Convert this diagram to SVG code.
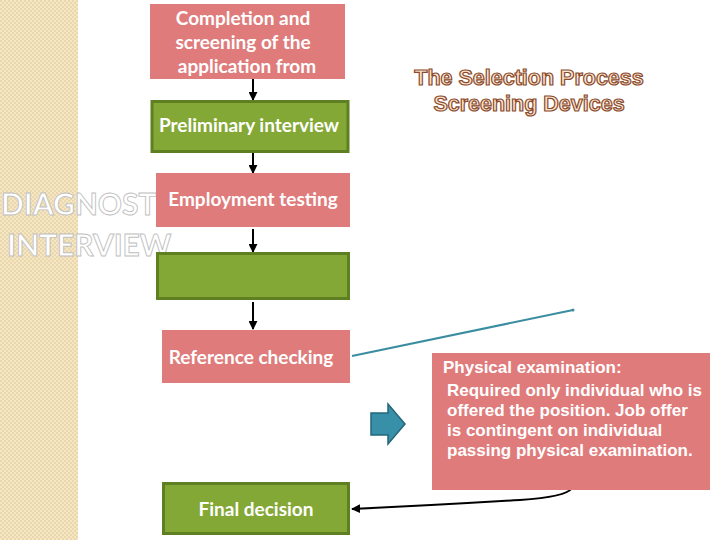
<svg xmlns="http://www.w3.org/2000/svg" width="720" height="540" viewBox="0 0 720 540">
<defs>
<pattern id="chk" width="4" height="4" patternUnits="userSpaceOnUse">
<rect width="4" height="4" fill="#F5E6C6"/>
<rect width="2" height="2" fill="#EBD7AC"/>
<rect x="2" y="2" width="2" height="2" fill="#EBD7AC"/>
</pattern>
<marker id="ah" viewBox="0 0 10 10" refX="9" refY="5" markerWidth="4.5" markerHeight="4.5" orient="auto">
<path d="M0,0 L10,5 L0,10 z" fill="#000"/>
</marker>
</defs>
<style>
.pink{fill:#E07B7B}
.green{fill:#84A835;stroke:#5E7F22;stroke-width:3}
.lbl{font-family:Lato,"Liberation Sans",sans-serif;font-size:19px;font-weight:bold;fill:#fff;text-anchor:middle}
.big{font-family:Lato,"Liberation Sans",sans-serif;font-size:30px;font-weight:bold;fill:#fff;stroke:#c0c0c0;stroke-width:0.9}
.ttl{font-family:"Liberation Sans",Arial,sans-serif;font-size:21.5px;font-weight:bold;fill:#FBE6D2;stroke:#8B4A2A;stroke-width:1.2;text-anchor:middle}
.pt{font-family:"Liberation Sans",Arial,sans-serif;font-size:17px;font-weight:bold;fill:#fff}
.conn{stroke:#000;stroke-width:2;fill:none}
</style>
<rect width="720" height="540" fill="#fff"/>
<rect x="0" y="0" width="78" height="540" fill="url(#chk)"/>

<g id="side-text">
<text class="big" x="1" y="215">DIAGNOSTI</text>
<text class="big" x="7" y="256">INTERVIEW</text>
</g>

<g id="title">
<text class="ttl" x="529" y="85">The Selection Process</text>
<text class="ttl" x="529" y="111">Screening Devices</text>
</g>

<g id="connectors">
<line class="conn" x1="253" y1="79" x2="253" y2="100" marker-end="url(#ah)"/>
<line class="conn" x1="253" y1="152" x2="253" y2="173" marker-end="url(#ah)"/>
<line class="conn" x1="253" y1="229" x2="253" y2="252" marker-end="url(#ah)"/>
<line class="conn" x1="253" y1="302" x2="253" y2="329" marker-end="url(#ah)"/>
<line x1="352" y1="356" x2="573" y2="310" stroke="#3A8DA0" stroke-width="2"/>
<circle cx="573" cy="310" r="1.5" fill="#3A8DA0"/>
<path class="conn" d="M572,488 Q566,497 520,500 Q440,505 352,509" marker-end="url(#ah)"/>
</g>

<g id="n1"><rect class="pink" x="150" y="4" width="195" height="75"/>
<text class="lbl" x="243" y="25">Completion and</text>
<text class="lbl" x="243" y="49">screening of the</text>
<text class="lbl" x="247" y="73">application from</text></g>

<g id="n2"><rect class="green" x="152" y="101.5" width="196" height="50"/>
<text class="lbl" x="249" y="132">Preliminary interview</text></g>

<g id="n3"><rect class="pink" x="156" y="173" width="194" height="54"/>
<text class="lbl" x="253" y="206">Employment testing</text></g>

<g id="n4"><rect class="green" x="157.5" y="253.5" width="191" height="45"/></g>

<g id="n5"><rect class="pink" x="162" y="330" width="188" height="53"/>
<text class="lbl" x="251" y="364">Reference checking</text></g>

<g id="n6"><rect class="pink" x="432" y="353" width="278" height="137"/>
<text class="pt" x="443" y="373">Physical examination:</text>
<text class="pt" x="447" y="396">Required only individual who is</text>
<text class="pt" x="447" y="416">offered the position. Job offer</text>
<text class="pt" x="447" y="436">is contingent on individual</text>
<text class="pt" x="447" y="456">passing physical examination.</text></g>

<g id="n7"><rect class="green" x="163.5" y="483.5" width="185" height="50"/>
<text class="lbl" x="256" y="516">Final decision</text></g>

<g id="block-arrow">
<path d="M371,413 L388,413 L388,404 L405,424 L388,444 L388,435 L371,435 Z" fill="#3790A8" stroke="#24667A" stroke-width="1.5"/>
</g>
</svg>
